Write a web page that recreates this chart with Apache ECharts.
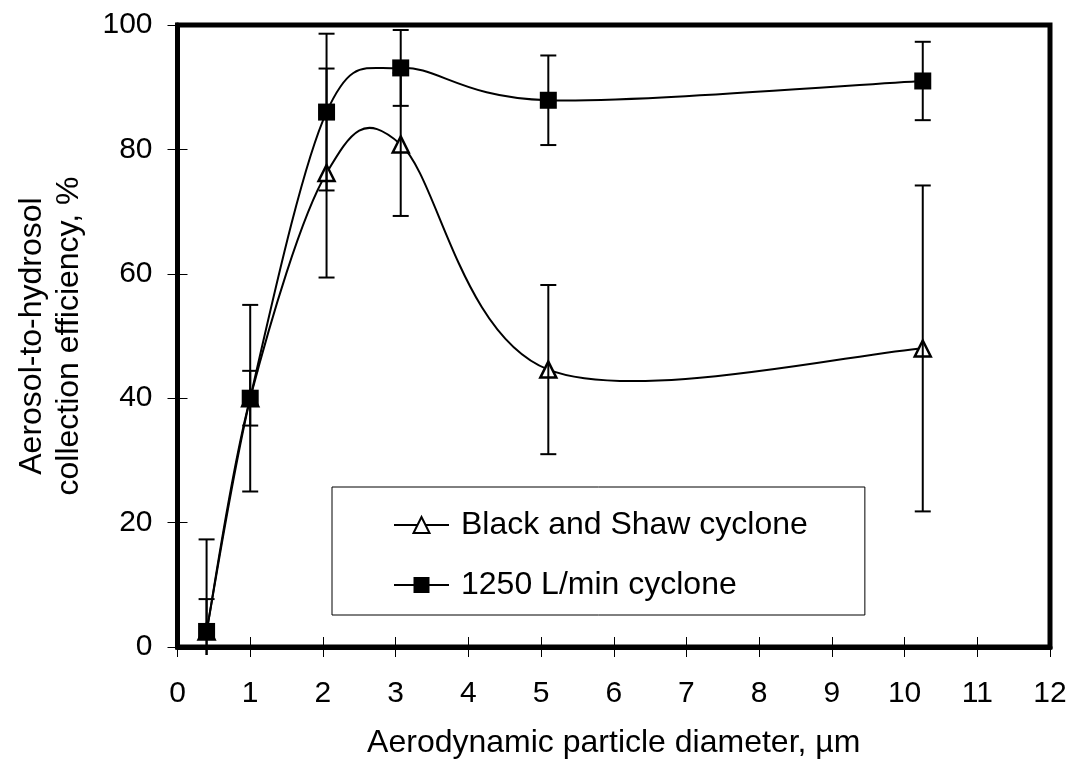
<!DOCTYPE html>
<html><head><meta charset="utf-8">
<script src="https://cdn.jsdelivr.net/npm/echarts@6/dist/echarts.min.js"></script>
<style>html,body{margin:0;padding:0;background:#fff}#c{width:1073px;height:769px}</style>
</head><body><div id="c"></div>
<script>
// Aerodynamic particle diameter, µm
const diameter = [0.4, 1, 2.05, 3.07, 5.1, 10.25];
// Black and Shaw cyclone: efficiency (%) and error bar half-width
const blackShaw = [2.5, 40, 76.2, 80.8, 44.6, 48];
const blackShawErr = [14.8, 15, 16.8, 11.5, 13.6, 26.2];
// 1250 L/min cyclone
const cyclone1250 = [2.5, 40, 86, 93.1, 87.9, 91];
const cyclone1250Err = [5.2, 4.4, 12.6, 6.1, 7.2, 6.3];
// axes
const xMin = 0, xMax = 12, xStep = 1;
const yMin = 0, yMax = 100, yStep = 20;

const FONT = 'Liberation Sans, Arial, sans-serif';
const FS_TICK = 30;
const FS_TEXT = 32;

function curveSeries(ys) {
  const n = diameter.length;
  const idx = k => Math.max(0, Math.min(n - 1, k));
  return {
    type: 'custom',
    z: 2,
    silent: true,
    clip: false,
    data: diameter.slice(0, -1).map((d, i) => [d, ys[i]]),
    renderItem: function (params, api) {
      const i = params.dataIndex;
      const P = k => api.coord([diameter[idx(k)], ys[idx(k)]]);
      const p0 = P(i - 1), p1 = P(i), p2 = P(i + 1), p3 = P(i + 2);
      return {
        type: 'bezierCurve',
        shape: {
          x1: p1[0], y1: p1[1], x2: p2[0], y2: p2[1],
          cpx1: p1[0] + (p2[0] - p0[0]) / 6, cpy1: p1[1] + (p2[1] - p0[1]) / 6,
          cpx2: p2[0] - (p3[0] - p1[0]) / 6, cpy2: p2[1] - (p3[1] - p1[1]) / 6
        },
        style: { fill: 'none', stroke: '#000', lineWidth: 2 }
      };
    }
  };
}

function errorSeries(ys, errs) {
  return {
    type: 'custom',
    z: 4,
    silent: true,
    clip: false,
    data: diameter.map((d, i) => [d, ys[i] - errs[i], ys[i] + errs[i]]),
    renderItem: function (params, api) {
      const x = api.value(0);
      const lo = api.coord([x, api.value(1)]);
      const hi = api.coord([x, api.value(2)]);
      const floor = params.coordSys.y + params.coordSys.height + 8;
      const yLo = Math.min(lo[1], floor);
      const hw = 8;
      const st = { stroke: '#000', lineWidth: 2 };
      const children = [
        { type: 'line', shape: { x1: hi[0], y1: hi[1], x2: hi[0], y2: yLo }, style: st },
        { type: 'line', shape: { x1: hi[0] - hw, y1: hi[1], x2: hi[0] + hw, y2: hi[1] }, style: st }
      ];
      if (lo[1] <= floor) {
        children.push({ type: 'line', shape: { x1: lo[0] - hw, y1: lo[1], x2: lo[0] + hw, y2: lo[1] }, style: st });
      }
      return { type: 'group', children: children };
    }
  };
}

function markerSeries(name, ys, symbol, size, itemStyle, z) {
  return {
    type: 'line',
    name: name,
    z: z,
    data: diameter.map((d, i) => [d, ys[i]]),
    symbol: symbol,
    symbolSize: size,
    showSymbol: true,
    itemStyle: itemStyle,
    lineStyle: { width: 0, opacity: 0 },
    emphasis: { disabled: true }
  };
}

const chart = echarts.init(document.getElementById('c'), null, { renderer: 'canvas' });

const axisCommon = {
  axisLine: { show: true, onZero: false, lineStyle: { color: '#000', width: 5 } },
  axisTick: { show: true, length: 10, lineStyle: { color: '#000', width: 1 } },
  splitLine: { show: false }
};

chart.setOption({
  animation: false,
  backgroundColor: '#fff',
  grid: {
    left: 177.5, right: 23, top: 25, bottom: 122,
    show: true, borderColor: '#000', borderWidth: 5, backgroundColor: 'transparent'
  },
  legend: {
    data: ['Black and Shaw cyclone', '1250 L/min cyclone'],
    orient: 'vertical',
    left: 332, top: 487,
    padding: [22, 57, 14, 61],
    itemGap: 28,
    itemWidth: 55,
    itemHeight: 20,
    borderColor: '#000',
    borderWidth: 1,
    borderRadius: 0,
    backgroundColor: '#fff',
    selectedMode: false,
    lineStyle: { color: '#000', width: 2, opacity: 1 },
    textStyle: { fontFamily: FONT, fontSize: FS_TEXT, color: '#000', lineHeight: 32, padding: [0, 0, 0, 7] }
  },
  xAxis: [
    Object.assign({}, axisCommon, {
      type: 'value', min: xMin, max: xMax, interval: xStep,
      axisLabel: { fontFamily: FONT, fontSize: FS_TICK, color: '#000', margin: 32 },
      name: 'Aerodynamic particle diameter, µm',
      nameLocation: 'middle', nameGap: 80,
      nameTextStyle: { fontFamily: FONT, fontSize: FS_TEXT, color: '#000' }
    }),
    {
      type: 'value', min: xMin, max: xMax, interval: xStep, position: 'bottom',
      axisLine: { show: false },
      axisTick: { show: true, inside: true, length: 10, lineStyle: { color: '#000', width: 1 } },
      axisLabel: { show: false }, splitLine: { show: false }
    }
  ],
  yAxis: [
    Object.assign({}, axisCommon, {
      type: 'value', min: yMin, max: yMax, interval: yStep,
      axisLabel: { fontFamily: FONT, fontSize: FS_TICK, color: '#000', margin: 25 },
      name: 'Aerosol-to-hydrosol\ncollection efficiency, %',
      nameLocation: 'middle', nameGap: 90,
      nameTextStyle: { fontFamily: FONT, fontSize: FS_TEXT, color: '#000', lineHeight: 37 }
    }),
    {
      type: 'value', min: yMin, max: yMax, interval: yStep, position: 'left',
      axisLine: { show: false },
      axisTick: { show: true, inside: true, length: 10, lineStyle: { color: '#000', width: 1 } },
      axisLabel: { show: false }, splitLine: { show: false }
    }
  ],
  series: [
    curveSeries(blackShaw),
    curveSeries(cyclone1250),
    errorSeries(blackShaw, blackShawErr),
    errorSeries(cyclone1250, cyclone1250Err),
    markerSeries('Black and Shaw cyclone', blackShaw, 'triangle', 16,
      { color: '#fff', borderColor: '#000', borderWidth: 2.5 }, 3),
    markerSeries('1250 L/min cyclone', cyclone1250, 'rect', 17,
      { color: '#000', borderColor: '#000', borderWidth: 0 }, 5)
  ]
});
</script>
</body></html>
